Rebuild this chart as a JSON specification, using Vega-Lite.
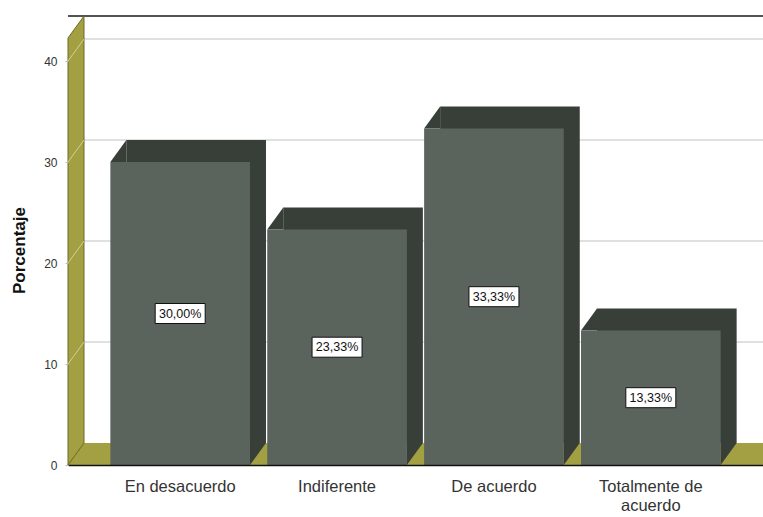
{
  "$schema": "https://vega.github.io/schema/vega-lite/v6.json",
  "width": 695,
  "height": 449,
  "autosize": {"type": "none"},
  "padding": {"left": 68, "top": 16, "right": 0, "bottom": 52},
  "background": "white",
  "config": {"view": {"stroke": null}, "font": "Liberation Sans"},
  "datasets": {
    "bars": [
      {"cat": "En desacuerdo", "value": 30.0, "label": "30,00%"},
      {"cat": "Indiferente", "value": 23.33, "label": "23,33%"},
      {"cat": "De acuerdo", "value": 33.33, "label": "33,33%"},
      {"cat": "Totalmente de acuerdo", "value": 13.33, "label": "13,33%"}
    ],
    "grid": [{"g": 10}, {"g": 20}, {"g": 30}, {"g": 40}],
    "one": [{"k": 1}]
  },
  "data": {"name": "bars"},
  "resolve": {"scale": {"y": "independent"}, "axis": {"y": "independent", "x": "independent"}},
  "layer": [
    {
      "data": {"name": "grid"},
      "mark": {"type": "rule", "yOffset": -22, "xOffset": 16, "color": "#d6d6d6", "strokeWidth": 1.5},
      "encoding": {"y": {"field": "g", "type": "quantitative", "scale": {"domain": [0, 44.46], "nice": false}, "axis": null}}
    },
    {
      "data": {"name": "one"},
      "mark": {"type": "rule", "yOffset": -22, "xOffset": 16, "color": "#1a1a1a", "strokeWidth": 1.5},
      "encoding": {"y": {"datum": 42.28, "type": "quantitative", "scale": {"domain": [0, 44.46], "nice": false}, "axis": null}}
    },
    {
      "data": {"name": "one"},
      "mark": {"type": "rule", "yOffset": -11, "color": "#a3a043", "strokeWidth": 22, "strokeCap": "butt"},
      "encoding": {"y": {"datum": 0, "type": "quantitative", "scale": {"domain": [0, 44.46], "nice": false}, "axis": null}}
    },
    {
      "data": {"name": "one"},
      "mark": {"type": "point", "shape": "M0,0V-427L16,-449V-22Z", "size": 4, "filled": true, "opacity": 1, "color": "#a3a043", "stroke": "#6e6b22", "strokeWidth": 1},
      "encoding": {
        "x": {"value": 0},
        "y": {"datum": 0, "type": "quantitative", "scale": {"domain": [0, 44.46], "nice": false}, "axis": null}
      }
    },
    {
      "data": {"name": "grid"},
      "mark": {"type": "point", "shape": "M0,0L16,-22", "size": 4, "filled": false, "opacity": 1, "stroke": "#d2cf96", "strokeWidth": 1},
      "encoding": {
        "x": {"value": 0},
        "y": {"field": "g", "type": "quantitative", "scale": {"domain": [0, 44.46], "nice": false}, "axis": null}
      }
    },
    {
      "mark": {"type": "bar", "xOffset": 16, "yOffset": -22, "y2Offset": -22, "color": "#383f39"},
      "encoding": {
        "x": {"field": "cat", "type": "nominal", "sort": null, "scale": {"paddingInner": 0.11, "paddingOuter": 0.27}, "axis": null},
        "y": {"field": "value", "type": "quantitative", "scale": {"domain": [0, 44.46], "nice": false}, "axis": null}
      }
    },
    {
      "mark": {"type": "point", "shape": "M0,0H16L16,-22Z", "size": 4, "filled": true, "opacity": 1, "color": "#383f39", "strokeWidth": 0},
      "encoding": {
        "x": {"field": "cat", "type": "nominal", "sort": null, "bandPosition": 0, "axis": null},
        "y": {"field": "value", "type": "quantitative", "scale": {"domain": [0, 44.46], "nice": false}, "axis": null}
      }
    },
    {
      "mark": {"type": "point", "shape": "M0,0V-22H16Z", "size": 4, "filled": true, "opacity": 1, "color": "#383f39", "strokeWidth": 0},
      "encoding": {
        "x": {"field": "cat", "type": "nominal", "sort": null, "bandPosition": 1, "axis": null},
        "y": {"datum": 0, "type": "quantitative", "scale": {"domain": [0, 44.46], "nice": false}, "axis": null}
      }
    },
    {
      "mark": {"type": "bar", "color": "#5a645d"},
      "encoding": {
        "x": {
          "field": "cat", "type": "nominal", "sort": null,
          "scale": {"paddingInner": 0.11, "paddingOuter": 0.27},
          "axis": {
            "title": null, "labelAngle": 0, "labelFont": "Liberation Sans", "labelFontSize": 16.5, "labelColor": "#333333",
            "ticks": false, "domain": true, "domainColor": "#111111", "domainWidth": 1.5, "labelPadding": 13, "zindex": 1,
            "labelLineHeight": 19, "labelLimit": 0,
            "labelExpr": "datum.label == 'Totalmente de acuerdo' ? ['Totalmente de', 'acuerdo'] : datum.label"
          }
        },
        "y": {
          "field": "value", "type": "quantitative",
          "scale": {"domain": [0, 44.46], "nice": false},
          "axis": {
            "values": [0, 10, 20, 30, 40], "title": "Porcentaje", "titleFont": "Liberation Sans", "titleFontSize": 17, "titleFontWeight": "bold",
            "titleColor": "#111111", "titleX": -44, "titleY": 234, "titleBaseline": "alphabetic",
            "grid": false, "domain": false, "ticks": true, "tickSize": 3, "tickColor": "#bbbbbb",
            "labelFont": "Liberation Sans", "labelFontSize": 12, "labelColor": "#333333", "labelPadding": 8, "labelFlush": false, "zindex": 1
          }
        }
      }
    },
    {
      "mark": {"type": "point", "shape": "M-25,-10H25V10H-25Z", "size": 4, "filled": true, "opacity": 1, "color": "white", "stroke": "#111111", "strokeWidth": 1},
      "encoding": {
        "x": {"field": "cat", "type": "nominal", "sort": null, "axis": null},
        "y": {"field": "value", "type": "quantitative", "scale": {"domain": [0, 88.92], "nice": false}, "axis": null}
      }
    },
    {
      "mark": {"type": "text", "font": "Liberation Sans", "fontSize": 12.5, "color": "#111111", "baseline": "middle", "align": "center"},
      "encoding": {
        "x": {"field": "cat", "type": "nominal", "sort": null, "axis": null},
        "y": {"field": "value", "type": "quantitative", "scale": {"domain": [0, 88.92], "nice": false}, "axis": null},
        "text": {"field": "label", "type": "nominal"}
      }
    }
  ]
}
